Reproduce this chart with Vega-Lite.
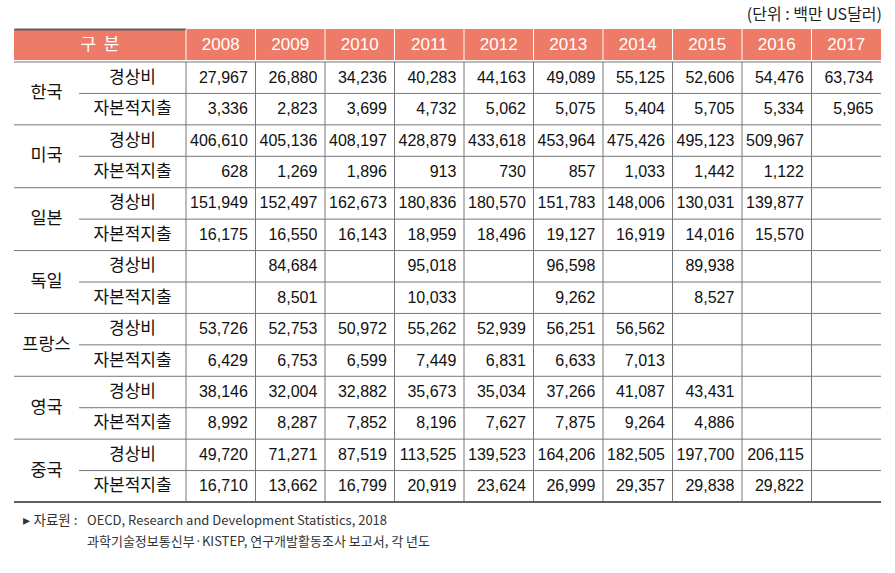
{
  "$schema": "https://vega.github.io/schema/vega-lite/v6.json",
  "background": "white",
  "padding": {"left": 13, "top": 6, "right": 15, "bottom": 0},
  "title": {"text": "(단위 : 백만 US달러)", "anchor": "end", "fontSize": 16, "fontWeight": "normal", "font": "Noto Sans CJK KR", "color": "#222222", "offset": 6},
  "datasets": {
    "years": [{"year": "2008"}, {"year": "2009"}, {"year": "2010"}, {"year": "2011"}, {"year": "2012"}, {"year": "2013"}, {"year": "2014"}, {"year": "2015"}, {"year": "2016"}, {"year": "2017"}],
    "countries": [{"country": "한국"}, {"country": "미국"}, {"country": "일본"}, {"country": "독일"}, {"country": "프랑스"}, {"country": "영국"}, {"country": "중국"}],
    "items": [
      {"country": "한국", "item": "경상비"}, {"country": "한국", "item": "자본적지출"},
      {"country": "미국", "item": "경상비"}, {"country": "미국", "item": "자본적지출"},
      {"country": "일본", "item": "경상비"}, {"country": "일본", "item": "자본적지출"},
      {"country": "독일", "item": "경상비"}, {"country": "독일", "item": "자본적지출"},
      {"country": "프랑스", "item": "경상비"}, {"country": "프랑스", "item": "자본적지출"},
      {"country": "영국", "item": "경상비"}, {"country": "영국", "item": "자본적지출"},
      {"country": "중국", "item": "경상비"}, {"country": "중국", "item": "자본적지출"}
    ],
    "notes": [
      {"kind": "자료원", "line": "1", "text": "OECD, Research and Development Statistics, 2018"},
      {"kind": "자료원", "line": "2", "text": "과학기술정보통신부·KISTEP, 연구개발활동조사 보고서, 각 년도"}
    ],
    "cells": [
      {"country": "한국", "item": "경상비", "year": "2008", "v": 27967},
      {"country": "한국", "item": "경상비", "year": "2009", "v": 26880},
      {"country": "한국", "item": "경상비", "year": "2010", "v": 34236},
      {"country": "한국", "item": "경상비", "year": "2011", "v": 40283},
      {"country": "한국", "item": "경상비", "year": "2012", "v": 44163},
      {"country": "한국", "item": "경상비", "year": "2013", "v": 49089},
      {"country": "한국", "item": "경상비", "year": "2014", "v": 55125},
      {"country": "한국", "item": "경상비", "year": "2015", "v": 52606},
      {"country": "한국", "item": "경상비", "year": "2016", "v": 54476},
      {"country": "한국", "item": "경상비", "year": "2017", "v": 63734},
      {"country": "한국", "item": "자본적지출", "year": "2008", "v": 3336},
      {"country": "한국", "item": "자본적지출", "year": "2009", "v": 2823},
      {"country": "한국", "item": "자본적지출", "year": "2010", "v": 3699},
      {"country": "한국", "item": "자본적지출", "year": "2011", "v": 4732},
      {"country": "한국", "item": "자본적지출", "year": "2012", "v": 5062},
      {"country": "한국", "item": "자본적지출", "year": "2013", "v": 5075},
      {"country": "한국", "item": "자본적지출", "year": "2014", "v": 5404},
      {"country": "한국", "item": "자본적지출", "year": "2015", "v": 5705},
      {"country": "한국", "item": "자본적지출", "year": "2016", "v": 5334},
      {"country": "한국", "item": "자본적지출", "year": "2017", "v": 5965},
      {"country": "미국", "item": "경상비", "year": "2008", "v": 406610},
      {"country": "미국", "item": "경상비", "year": "2009", "v": 405136},
      {"country": "미국", "item": "경상비", "year": "2010", "v": 408197},
      {"country": "미국", "item": "경상비", "year": "2011", "v": 428879},
      {"country": "미국", "item": "경상비", "year": "2012", "v": 433618},
      {"country": "미국", "item": "경상비", "year": "2013", "v": 453964},
      {"country": "미국", "item": "경상비", "year": "2014", "v": 475426},
      {"country": "미국", "item": "경상비", "year": "2015", "v": 495123},
      {"country": "미국", "item": "경상비", "year": "2016", "v": 509967},
      {"country": "미국", "item": "자본적지출", "year": "2008", "v": 628},
      {"country": "미국", "item": "자본적지출", "year": "2009", "v": 1269},
      {"country": "미국", "item": "자본적지출", "year": "2010", "v": 1896},
      {"country": "미국", "item": "자본적지출", "year": "2011", "v": 913},
      {"country": "미국", "item": "자본적지출", "year": "2012", "v": 730},
      {"country": "미국", "item": "자본적지출", "year": "2013", "v": 857},
      {"country": "미국", "item": "자본적지출", "year": "2014", "v": 1033},
      {"country": "미국", "item": "자본적지출", "year": "2015", "v": 1442},
      {"country": "미국", "item": "자본적지출", "year": "2016", "v": 1122},
      {"country": "일본", "item": "경상비", "year": "2008", "v": 151949},
      {"country": "일본", "item": "경상비", "year": "2009", "v": 152497},
      {"country": "일본", "item": "경상비", "year": "2010", "v": 162673},
      {"country": "일본", "item": "경상비", "year": "2011", "v": 180836},
      {"country": "일본", "item": "경상비", "year": "2012", "v": 180570},
      {"country": "일본", "item": "경상비", "year": "2013", "v": 151783},
      {"country": "일본", "item": "경상비", "year": "2014", "v": 148006},
      {"country": "일본", "item": "경상비", "year": "2015", "v": 130031},
      {"country": "일본", "item": "경상비", "year": "2016", "v": 139877},
      {"country": "일본", "item": "자본적지출", "year": "2008", "v": 16175},
      {"country": "일본", "item": "자본적지출", "year": "2009", "v": 16550},
      {"country": "일본", "item": "자본적지출", "year": "2010", "v": 16143},
      {"country": "일본", "item": "자본적지출", "year": "2011", "v": 18959},
      {"country": "일본", "item": "자본적지출", "year": "2012", "v": 18496},
      {"country": "일본", "item": "자본적지출", "year": "2013", "v": 19127},
      {"country": "일본", "item": "자본적지출", "year": "2014", "v": 16919},
      {"country": "일본", "item": "자본적지출", "year": "2015", "v": 14016},
      {"country": "일본", "item": "자본적지출", "year": "2016", "v": 15570},
      {"country": "독일", "item": "경상비", "year": "2009", "v": 84684},
      {"country": "독일", "item": "경상비", "year": "2011", "v": 95018},
      {"country": "독일", "item": "경상비", "year": "2013", "v": 96598},
      {"country": "독일", "item": "경상비", "year": "2015", "v": 89938},
      {"country": "독일", "item": "자본적지출", "year": "2009", "v": 8501},
      {"country": "독일", "item": "자본적지출", "year": "2011", "v": 10033},
      {"country": "독일", "item": "자본적지출", "year": "2013", "v": 9262},
      {"country": "독일", "item": "자본적지출", "year": "2015", "v": 8527},
      {"country": "프랑스", "item": "경상비", "year": "2008", "v": 53726},
      {"country": "프랑스", "item": "경상비", "year": "2009", "v": 52753},
      {"country": "프랑스", "item": "경상비", "year": "2010", "v": 50972},
      {"country": "프랑스", "item": "경상비", "year": "2011", "v": 55262},
      {"country": "프랑스", "item": "경상비", "year": "2012", "v": 52939},
      {"country": "프랑스", "item": "경상비", "year": "2013", "v": 56251},
      {"country": "프랑스", "item": "경상비", "year": "2014", "v": 56562},
      {"country": "프랑스", "item": "자본적지출", "year": "2008", "v": 6429},
      {"country": "프랑스", "item": "자본적지출", "year": "2009", "v": 6753},
      {"country": "프랑스", "item": "자본적지출", "year": "2010", "v": 6599},
      {"country": "프랑스", "item": "자본적지출", "year": "2011", "v": 7449},
      {"country": "프랑스", "item": "자본적지출", "year": "2012", "v": 6831},
      {"country": "프랑스", "item": "자본적지출", "year": "2013", "v": 6633},
      {"country": "프랑스", "item": "자본적지출", "year": "2014", "v": 7013},
      {"country": "영국", "item": "경상비", "year": "2008", "v": 38146},
      {"country": "영국", "item": "경상비", "year": "2009", "v": 32004},
      {"country": "영국", "item": "경상비", "year": "2010", "v": 32882},
      {"country": "영국", "item": "경상비", "year": "2011", "v": 35673},
      {"country": "영국", "item": "경상비", "year": "2012", "v": 35034},
      {"country": "영국", "item": "경상비", "year": "2013", "v": 37266},
      {"country": "영국", "item": "경상비", "year": "2014", "v": 41087},
      {"country": "영국", "item": "경상비", "year": "2015", "v": 43431},
      {"country": "영국", "item": "자본적지출", "year": "2008", "v": 8992},
      {"country": "영국", "item": "자본적지출", "year": "2009", "v": 8287},
      {"country": "영국", "item": "자본적지출", "year": "2010", "v": 7852},
      {"country": "영국", "item": "자본적지출", "year": "2011", "v": 8196},
      {"country": "영국", "item": "자본적지출", "year": "2012", "v": 7627},
      {"country": "영국", "item": "자본적지출", "year": "2013", "v": 7875},
      {"country": "영국", "item": "자본적지출", "year": "2014", "v": 9264},
      {"country": "영국", "item": "자본적지출", "year": "2015", "v": 4886},
      {"country": "중국", "item": "경상비", "year": "2008", "v": 49720},
      {"country": "중국", "item": "경상비", "year": "2009", "v": 71271},
      {"country": "중국", "item": "경상비", "year": "2010", "v": 87519},
      {"country": "중국", "item": "경상비", "year": "2011", "v": 113525},
      {"country": "중국", "item": "경상비", "year": "2012", "v": 139523},
      {"country": "중국", "item": "경상비", "year": "2013", "v": 164206},
      {"country": "중국", "item": "경상비", "year": "2014", "v": 182505},
      {"country": "중국", "item": "경상비", "year": "2015", "v": 197700},
      {"country": "중국", "item": "경상비", "year": "2016", "v": 206115},
      {"country": "중국", "item": "자본적지출", "year": "2008", "v": 16710},
      {"country": "중국", "item": "자본적지출", "year": "2009", "v": 13662},
      {"country": "중국", "item": "자본적지출", "year": "2010", "v": 16799},
      {"country": "중국", "item": "자본적지출", "year": "2011", "v": 20919},
      {"country": "중국", "item": "자본적지출", "year": "2012", "v": 23624},
      {"country": "중국", "item": "자본적지출", "year": "2013", "v": 26999},
      {"country": "중국", "item": "자본적지출", "year": "2014", "v": 29357},
      {"country": "중국", "item": "자본적지출", "year": "2015", "v": 29838},
      {"country": "중국", "item": "자본적지출", "year": "2016", "v": 29822}
    ]
  },
  "spacing": 0,
  "vconcat": [
    {
      "spacing": 0,
      "bounds": "flush",
      "hconcat": [
        {
          "width": 172,
          "height": 31,
          "view": {"fill": "#EE7B67", "stroke": null},
          "data": {"values": [{"h": "구 \u00a0분"}]},
          "mark": {"type": "text", "color": "white", "fontSize": 17, "font": "Noto Sans CJK KR"},
          "encoding": {
            "x": {"field": "h", "type": "nominal", "scale": {"type": "band", "paddingInner": 0, "paddingOuter": 0},
                  "axis": {"orient": "top", "domain": true, "domainColor": "#5f5f5f", "domainWidth": 2, "labels": false, "ticks": false, "grid": false, "title": null}},
            "text": {"field": "h"}
          }
        },
        {
          "width": 695,
          "height": 31,
          "view": {"fill": "#EE7B67", "stroke": null},
          "data": {"name": "years"},
          "layer": [
            {
              "mark": {"type": "rule", "color": "white", "strokeWidth": 1},
              "encoding": {
                "x": {"field": "year", "type": "ordinal", "bandPosition": 0, "scale": {"type": "band", "paddingInner": 0, "paddingOuter": 0},
                      "axis": {"orient": "top", "domain": true, "domainColor": "#5f5f5f", "domainWidth": 2, "labels": false, "ticks": false, "grid": false, "title": null}}
              }
            },
            {
              "mark": {"type": "text", "color": "white", "fontSize": 17, "font": "Liberation Sans"},
              "encoding": {
                "x": {"field": "year", "type": "ordinal", "scale": {"type": "band", "paddingInner": 0, "paddingOuter": 0}, "axis": null},
                "text": {"field": "year"}
              }
            }
          ]
        }
      ]
    },
    {
      "spacing": 0,
      "bounds": "flush",
      "hconcat": [
        {
          "width": 65,
          "height": 440,
          "layer": [
            {
              "data": {"name": "countries"},
              "mark": {"type": "rule", "color": "#777777", "strokeWidth": 1},
              "encoding": {"y": {"field": "country", "type": "nominal", "bandPosition": 0, "scale": {"type": "band", "domain": ["한국", "미국", "일본", "독일", "프랑스", "영국", "중국"], "paddingInner": 0, "paddingOuter": 0}, "axis": null}}
            },
            {
              "data": {"name": "countries"},
              "mark": {"type": "text", "fontSize": 17.5, "color": "#111111", "font": "Noto Sans CJK KR"},
              "encoding": {
                "y": {"field": "country", "type": "nominal", "scale": {"type": "band", "domain": ["한국", "미국", "일본", "독일", "프랑스", "영국", "중국"], "paddingInner": 0, "paddingOuter": 0}, "axis": null},
                "text": {"field": "country"}
              }
            },
            {
              "data": {"values": [{"country": "중국"}]},
              "mark": {"type": "rule", "color": "#5f5f5f", "strokeWidth": 2},
              "encoding": {"y": {"field": "country", "type": "nominal", "bandPosition": 1, "scale": {"type": "band", "domain": ["한국", "미국", "일본", "독일", "프랑스", "영국", "중국"], "paddingInner": 0, "paddingOuter": 0}, "axis": null}}
            }
          ]
        },
        {
          "width": 107,
          "height": 440,
          "layer": [
            {
              "data": {"name": "countries"},
              "mark": {"type": "rule", "color": "#777777", "strokeWidth": 1},
              "encoding": {"y": {"field": "country", "type": "nominal", "bandPosition": 0, "scale": {"type": "band", "domain": ["한국", "미국", "일본", "독일", "프랑스", "영국", "중국"], "paddingInner": 0, "paddingOuter": 0},
                "axis": {"orient": "left", "domain": true, "domainColor": "#777777", "domainWidth": 1, "labels": false, "ticks": false, "grid": false, "title": null}}}
            },
            {
              "data": {"name": "countries"},
              "mark": {"type": "rule", "color": "#777777", "strokeWidth": 1},
              "encoding": {"y": {"field": "country", "type": "nominal", "bandPosition": 0.5, "scale": {"type": "band", "domain": ["한국", "미국", "일본", "독일", "프랑스", "영국", "중국"], "paddingInner": 0, "paddingOuter": 0}, "axis": null}}
            },
            {
              "data": {"name": "items"},
              "transform": [{"filter": "datum.item === '경상비'"}],
              "mark": {"type": "text", "fontSize": 17, "color": "#111111", "font": "Noto Sans CJK KR"},
              "encoding": {
                "y": {"field": "country", "type": "nominal", "bandPosition": 0.25, "scale": {"type": "band", "domain": ["한국", "미국", "일본", "독일", "프랑스", "영국", "중국"], "paddingInner": 0, "paddingOuter": 0}, "axis": null},
                "text": {"field": "item"}
              }
            },
            {
              "data": {"name": "items"},
              "transform": [{"filter": "datum.item === '자본적지출'"}],
              "mark": {"type": "text", "fontSize": 17, "color": "#111111", "font": "Noto Sans CJK KR"},
              "encoding": {
                "y": {"field": "country", "type": "nominal", "bandPosition": 0.75, "scale": {"type": "band", "domain": ["한국", "미국", "일본", "독일", "프랑스", "영국", "중국"], "paddingInner": 0, "paddingOuter": 0}, "axis": null},
                "text": {"field": "item"}
              }
            },
            {
              "data": {"values": [{"country": "중국"}]},
              "mark": {"type": "rule", "color": "#5f5f5f", "strokeWidth": 2},
              "encoding": {"y": {"field": "country", "type": "nominal", "bandPosition": 1, "scale": {"type": "band", "domain": ["한국", "미국", "일본", "독일", "프랑스", "영국", "중국"], "paddingInner": 0, "paddingOuter": 0}, "axis": null}}
            }
          ]
        },
        {
          "width": 695,
          "height": 440,
          "layer": [
            {
              "data": {"name": "countries"},
              "mark": {"type": "rule", "color": "#777777", "strokeWidth": 1},
              "encoding": {"y": {"field": "country", "type": "nominal", "bandPosition": 0, "scale": {"type": "band", "domain": ["한국", "미국", "일본", "독일", "프랑스", "영국", "중국"], "paddingInner": 0, "paddingOuter": 0}, "axis": null}}
            },
            {
              "data": {"name": "countries"},
              "mark": {"type": "rule", "color": "#777777", "strokeWidth": 1},
              "encoding": {"y": {"field": "country", "type": "nominal", "bandPosition": 0.5, "scale": {"type": "band", "domain": ["한국", "미국", "일본", "독일", "프랑스", "영국", "중국"], "paddingInner": 0, "paddingOuter": 0}, "axis": null}}
            },
            {
              "data": {"name": "years"},
              "mark": {"type": "rule", "color": "#777777", "strokeWidth": 1},
              "encoding": {"x": {"field": "year", "type": "ordinal", "bandPosition": 0, "scale": {"type": "band", "domain": ["2008", "2009", "2010", "2011", "2012", "2013", "2014", "2015", "2016", "2017"], "paddingInner": 0, "paddingOuter": 0}, "axis": null}}
            },
            {
              "data": {"name": "cells"},
              "transform": [{"filter": "datum.item === '경상비'"}],
              "mark": {"type": "text", "fontSize": 16, "color": "#111111", "align": "right", "font": "Liberation Sans"},
              "encoding": {
                "x": {"field": "year", "type": "ordinal", "bandPosition": 0.89, "scale": {"type": "band", "domain": ["2008", "2009", "2010", "2011", "2012", "2013", "2014", "2015", "2016", "2017"], "paddingInner": 0, "paddingOuter": 0}, "axis": null},
                "y": {"field": "country", "type": "nominal", "bandPosition": 0.25, "scale": {"type": "band", "domain": ["한국", "미국", "일본", "독일", "프랑스", "영국", "중국"], "paddingInner": 0, "paddingOuter": 0}, "axis": null},
                "text": {"field": "v", "type": "quantitative", "format": ",d"}
              }
            },
            {
              "data": {"name": "cells"},
              "transform": [{"filter": "datum.item === '자본적지출'"}],
              "mark": {"type": "text", "fontSize": 16, "color": "#111111", "align": "right", "font": "Liberation Sans"},
              "encoding": {
                "x": {"field": "year", "type": "ordinal", "bandPosition": 0.89, "scale": {"type": "band", "domain": ["2008", "2009", "2010", "2011", "2012", "2013", "2014", "2015", "2016", "2017"], "paddingInner": 0, "paddingOuter": 0}, "axis": null},
                "y": {"field": "country", "type": "nominal", "bandPosition": 0.75, "scale": {"type": "band", "domain": ["한국", "미국", "일본", "독일", "프랑스", "영국", "중국"], "paddingInner": 0, "paddingOuter": 0}, "axis": null},
                "text": {"field": "v", "type": "quantitative", "format": ",d"}
              }
            },
            {
              "data": {"values": [{"country": "중국"}]},
              "mark": {"type": "rule", "color": "#5f5f5f", "strokeWidth": 2},
              "encoding": {"y": {"field": "country", "type": "nominal", "bandPosition": 1, "scale": {"type": "band", "domain": ["한국", "미국", "일본", "독일", "프랑스", "영국", "중국"], "paddingInner": 0, "paddingOuter": 0}, "axis": null}}
            }
          ]
        }
      ]
    },
    {
      "spacing": 0,
      "bounds": "flush",
      "hconcat": [
        {
          "width": 73,
          "height": 57,
          "data": {"name": "notes"},
          "transform": [{"filter": "datum.line === '1'"}],
          "mark": {"type": "text", "fontSize": 13.5, "color": "#333333", "font": "Noto Sans CJK KR"},
          "encoding": {
            "y": {"field": "line", "type": "nominal", "scale": {"type": "band", "domain": ["1", "2"], "paddingInner": 0, "paddingOuter": 0.357}, "axis": null},
            "text": {"value": "▸ 자료원 :"}
          }
        },
        {
          "width": 794,
          "height": 57,
          "data": {"name": "notes"},
          "mark": {"type": "text", "fontSize": 13, "color": "#333333", "align": "left", "font": "Noto Sans CJK KR"},
          "encoding": {
            "x": {"field": "kind", "type": "nominal", "bandPosition": 0, "scale": {"type": "band", "paddingInner": 0, "paddingOuter": 0}, "axis": null},
            "y": {"field": "line", "type": "nominal", "scale": {"type": "band", "domain": ["1", "2"], "paddingInner": 0, "paddingOuter": 0.357}, "axis": null},
            "text": {"field": "text"}
          }
        }
      ]
    }
  ],
  "config": {"view": {"stroke": null}, "font": "Noto Sans CJK KR"}
}
